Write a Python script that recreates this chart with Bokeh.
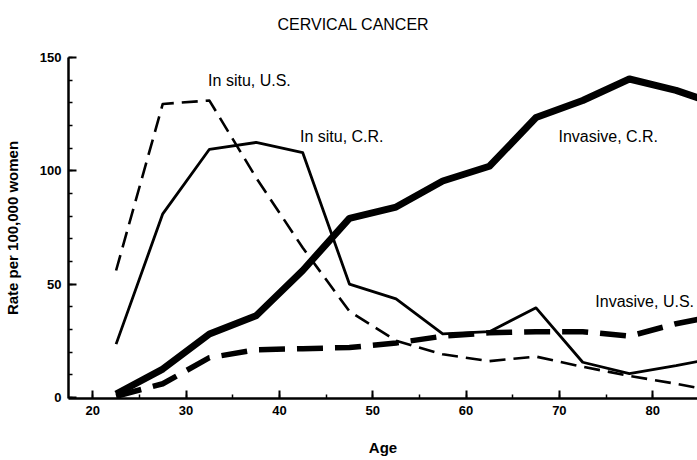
from bokeh.plotting import figure
from bokeh.models import Range1d, SingleIntervalTicker, Label
from bokeh.embed import file_html
from bokeh.resources import INLINE

# Age-group midpoints (years)
ages = [22.5, 27.5, 32.5, 37.5, 42.5, 47.5, 52.5, 57.5, 62.5, 67.5, 72.5, 77.5, 82.5, 85]

# Rates per 100,000 women
invasive_cr = [1.5, 12.5, 28, 36, 56, 79, 84, 95.5, 102, 123.5, 131, 140.5, 135.5, 132]
in_situ_cr = [23.5, 81, 109.5, 112.5, 108, 50, 43.5, 28, 29, 39.5, 15.5, 10.5, 14, 16]
in_situ_us = [56, 129.5, 131, 97, 66, 38, 25, 19, 16, 18, 13.5, 9.5, 6, 4]
invasive_us = [0.5, 6, 17.5, 21, 21.5, 22, 24, 27, 28.5, 29, 29, 27, 32.5, 34.5]

series_labels = ["In situ, U.S.", "In situ, C.R.", "Invasive, C.R.", "Invasive, U.S."]
title_text = "CERVICAL CANCER"
x_title = "Age"
y_title = "Rate per 100,000 women"

p = figure(width=697, height=460, output_backend="svg", toolbar_location=None,
           x_range=Range1d(17.4, 84.8), y_range=Range1d(-0.5, 150),
           min_border_left=68, min_border_right=0, min_border_top=57, min_border_bottom=62)
p.outline_line_color = None
p.grid.visible = False
p.background_fill_color = "white"
p.border_fill_color = "white"

# second (blank) line keeps the title high above the frame
p.title.text = title_text + "\n "
p.title.align = "left"
p.title.offset = 209
p.title.standoff = 16
p.title.text_font = "Liberation Sans"
p.title.text_font_size = "16px"
p.title.text_font_style = "normal"
p.title.text_color = "black"

p.xaxis.ticker = SingleIntervalTicker(interval=10, num_minor_ticks=2)
p.yaxis.ticker = SingleIntervalTicker(interval=50, num_minor_ticks=5)
for ax in (p.xaxis, p.yaxis):
    ax.axis_line_width = 2.5
    ax.axis_line_color = "black"
    ax.major_tick_in = 8
    ax.major_tick_out = 0
    ax.minor_tick_in = 4
    ax.minor_tick_out = 0
    ax.major_tick_line_width = 2
    ax.minor_tick_line_width = 1.5
    ax.major_tick_line_color = "black"
    ax.minor_tick_line_color = "black"
    ax.major_label_text_font = "Liberation Sans"
    ax.major_label_text_font_style = "bold"
    ax.major_label_text_font_size = "13px"
    ax.major_label_text_color = "black"
    ax.axis_label_text_font = "Liberation Sans"
    ax.axis_label_text_font_style = "bold"
    ax.axis_label_text_font_size = "15px"
    ax.axis_label_text_color = "black"

p.xaxis.axis_label = x_title
p.xaxis.major_label_standoff = 7
p.xaxis.axis_label_standoff = 21
p.yaxis.axis_label = y_title
p.yaxis.major_label_standoff = 7
p.yaxis.axis_label_standoff = 16

p.line(ages, invasive_cr, line_width=7, color="black", line_join="round")
p.line(ages, in_situ_cr, line_width=2.8, color="black", line_join="round")
p.line(ages, in_situ_us, line_width=2.6, color="black", line_dash="16 8", line_join="round")
p.line(ages, invasive_us, line_width=5.5, color="black", line_dash="26 12", line_join="round")

label_pos = [(32.36, 139.7), (42.2, 115.3), (69.9, 115.2), (73.85, 42.2)]
for txt, (lx, ly) in zip(series_labels, label_pos):
    p.add_layout(Label(x=lx, y=ly, text=txt, text_font="Liberation Sans",
                       text_font_size="16px", text_align="left",
                       text_baseline="middle", text_color="black"))

open("out.html", "w").write(file_html(p, INLINE))
